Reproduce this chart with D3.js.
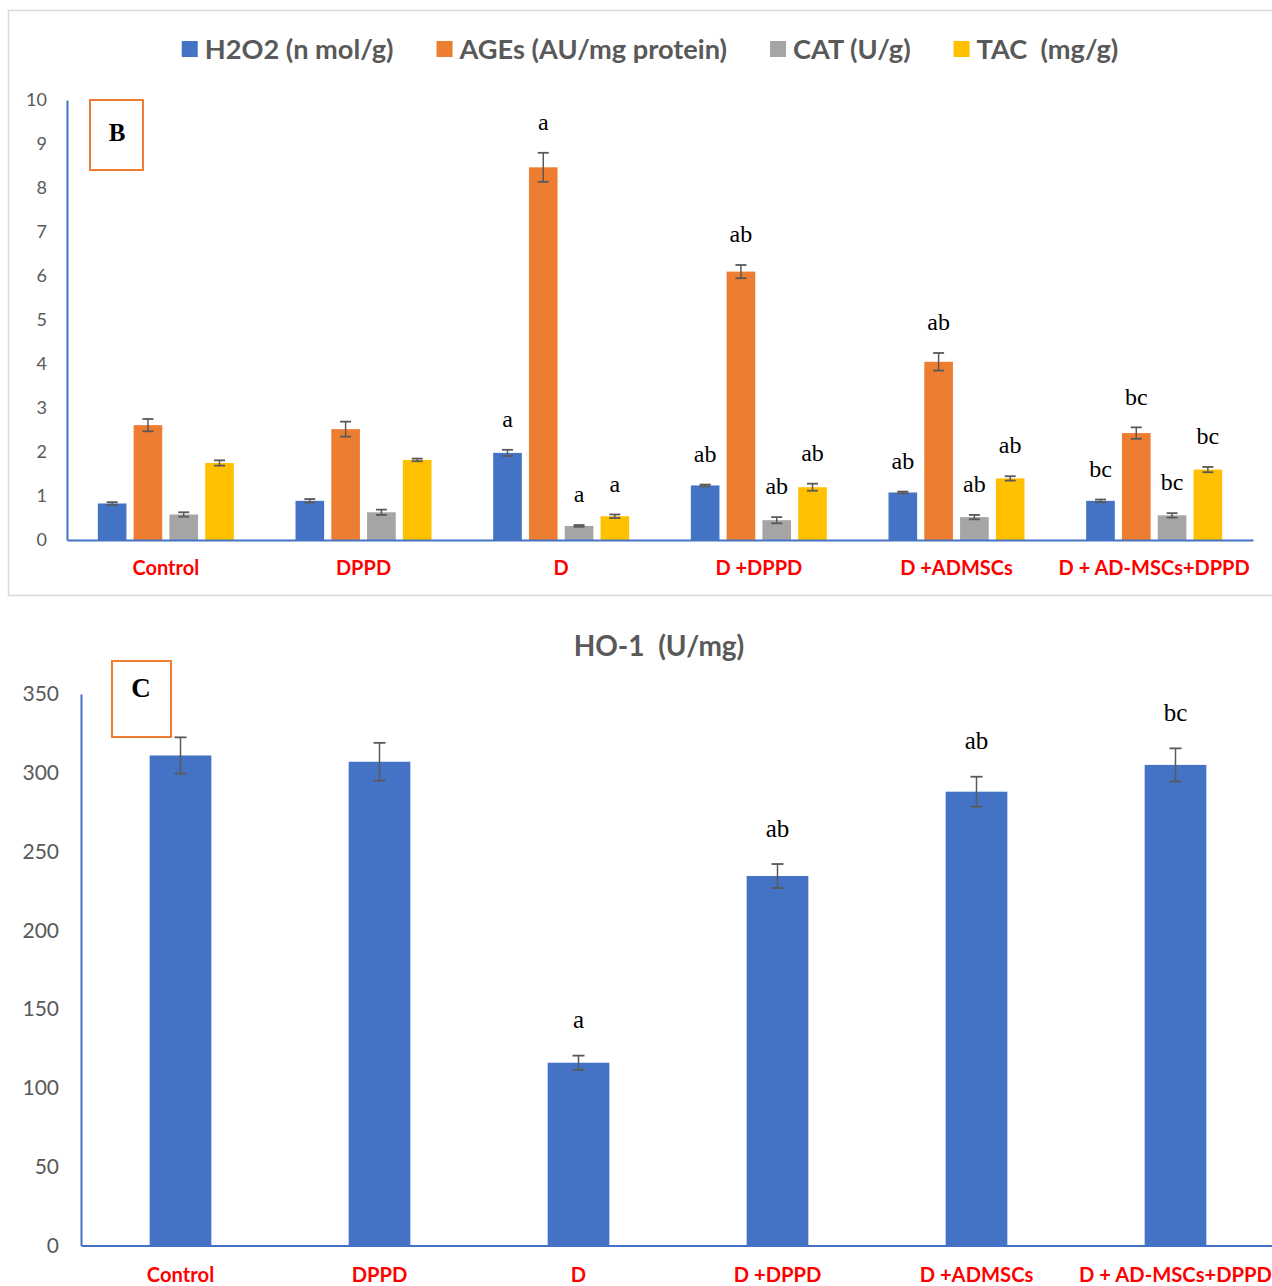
<!DOCTYPE html>
<html>
<head>
<meta charset="utf-8">
<script src="https://cdn.jsdelivr.net/npm/d3@7"></script>
<style>
  html, body { margin: 0; padding: 0; background: #ffffff; }
  svg { display: block; }
</style>
</head>
<body>
<script>
// ---------- DATA ----------
const categories = ["Control", "DPPD", "D", "D +DPPD", "D +ADMSCs", "D + AD-MSCs+DPPD"];
const seriesNames = ["H2O2 (n mol/g)", "AGEs (AU/mg protein)", "CAT (U/g)", "TAC  (mg/g)"];

const h2o2    = [0.83, 0.89, 1.98, 1.24, 1.08, 0.89];
const h2o2Err = [0.03, 0.04, 0.07, 0.02, 0.02, 0.03];
const ages    = [2.61, 2.52, 8.47, 6.10, 4.05, 2.43];
const agesErr = [0.14, 0.17, 0.33, 0.15, 0.20, 0.13];
const cat     = [0.58, 0.63, 0.32, 0.45, 0.52, 0.56];
const catErr  = [0.05, 0.06, 0.02, 0.07, 0.05, 0.05];
const tac     = [1.75, 1.82, 0.54, 1.20, 1.40, 1.60];
const tacErr  = [0.06, 0.03, 0.04, 0.08, 0.05, 0.06];

const h2o2Sig = ["", "", "a", "ab", "ab", "bc"];
const agesSig = ["", "", "a", "ab", "ab", "bc"];
const catSig  = ["", "", "a", "ab", "ab", "bc"];
const tacSig  = ["", "", "a", "ab", "ab", "bc"];

const ho1Title = "HO-1  (U/mg)";
const ho1    = [311, 307, 116, 234.5, 288, 305];
const ho1Err = [11.5, 12, 4.5, 7.6, 9.5, 10.5];
const ho1Sig = ["", "", "a", "ab", "ab", "bc"];

const topTicks = [0, 1, 2, 3, 4, 5, 6, 7, 8, 9, 10];
const bottomTicks = [0, 50, 100, 150, 200, 250, 300, 350];

const panelTagTop = "B";
const panelTagBottom = "C";

// ---------- STYLE ----------
const colors = ["#4472C4", "#ED7D31", "#A5A5A5", "#FFC000"];
const axisBlue = "#4472C4";
const textGray = "#595959";
const errColor = "#595959";
const sansFont = "Lato, 'Open Sans', sans-serif";
const serifFont = "'Palatino Linotype', 'Book Antiqua', 'Liberation Serif', 'DejaVu Serif', serif";

const W = 1272, H = 1286;
const svg = d3.select("body").append("svg")
  .attr("width", W).attr("height", H)
  .attr("xmlns", "http://www.w3.org/2000/svg");
svg.append("rect").attr("width", W).attr("height", H).attr("fill", "#fff");

// ================= TOP PANEL =================
svg.append("rect")
  .attr("x", 8.5).attr("y", 10.5).attr("width", 1290).attr("height", 585)
  .attr("fill", "none").attr("stroke", "#d9d9d9").attr("stroke-width", 1.5);

const series = [
  { name: seriesNames[0], vals: h2o2, errs: h2o2Err, sig: h2o2Sig },
  { name: seriesNames[1], vals: ages, errs: agesErr, sig: agesSig },
  { name: seriesNames[2], vals: cat,  errs: catErr,  sig: catSig },
  { name: seriesNames[3], vals: tac,  errs: tacErr,  sig: tacSig }
];

const tx0 = d3.scaleBand().domain(categories).range([67, 1253]).padding(0);
const tx1 = d3.scaleBand().domain(d3.range(series.length))
  .range([tx0.bandwidth() * 0.156, tx0.bandwidth() * 0.844]).paddingInner(0.2).paddingOuter(0);
const ty = d3.scaleLinear().domain([0, 10]).range([540, 100]);

const gTop = svg.append("g");

// y axis
const yAxTop = gTop.append("g").attr("transform", "translate(67,0)")
  .call(d3.axisLeft(ty).tickValues(topTicks).tickSize(0).tickSizeOuter(0).tickPadding(20));
yAxTop.select(".domain").attr("stroke", axisBlue).attr("stroke-width", 2);
yAxTop.selectAll("text").attr("font-family", sansFont).attr("font-size", 18).attr("fill", textGray);

// bars
series.forEach((s, si) => {
  const g = gTop.append("g");
  g.selectAll("rect").data(categories).join("rect")
    .attr("x", (c) => tx0(c) + tx1(si))
    .attr("y", (c, i) => ty(s.vals[i]))
    .attr("width", tx1.bandwidth())
    .attr("height", (c, i) => ty(0) - ty(s.vals[i]))
    .attr("fill", colors[si]);
});

// x axis
const xAxTop = gTop.append("g").attr("transform", "translate(0,540)")
  .call(d3.axisBottom(tx0).tickSize(0).tickSizeOuter(0));
xAxTop.select(".domain").attr("stroke", axisBlue).attr("stroke-width", 2);
xAxTop.selectAll("text")
  .attr("y", 35).attr("dy", 0)
  .attr("font-family", sansFont).attr("font-weight", "bold").attr("font-size", 20).attr("fill", "#FF0000");

// error bars + letters
series.forEach((s, si) => {
  const g = gTop.append("g");
  categories.forEach((c, i) => {
    const cx = tx0(c) + tx1(si) + tx1.bandwidth() / 2;
    const hi = ty(s.vals[i] + s.errs[i]);
    const lo = ty(s.vals[i] - s.errs[i]);
    g.append("line").attr("x1", cx).attr("x2", cx).attr("y1", hi).attr("y2", lo)
      .attr("stroke", errColor).attr("stroke-width", 1.5);
    [hi, lo].forEach(yy => g.append("line").attr("x1", cx - 5.5).attr("x2", cx + 5.5)
      .attr("y1", yy).attr("y2", yy).attr("stroke", errColor).attr("stroke-width", 1.8));
    if (s.sig[i]) {
      g.append("text").attr("x", cx).attr("y", hi - 30).attr("dy", "0.3em")
        .attr("text-anchor", "middle").attr("font-family", serifFont)
        .attr("font-size", 24).attr("fill", "#000").text(s.sig[i]);
    }
  });
});

// legend
const leg = svg.append("g");
const items = [];
let lx = 0;
series.forEach((s, si) => {
  const it = leg.append("g");
  it.append("rect").attr("x", 0).attr("y", -8).attr("width", 16).attr("height", 16).attr("fill", colors[si]);
  const t = it.append("text").attr("x", 23).attr("y", 0).attr("dy", "0.35em")
    .attr("font-family", sansFont).attr("font-weight", "bold").attr("font-size", 27.2)
    .attr("fill", textGray).style("white-space", "pre").text(s.name);
  const w = 23 + t.node().getComputedTextLength();
  items.push({ it, x: lx });
  lx += w + 43;
});
const totalW = lx - 43;
const legStart = 650 - totalW / 2;
items.forEach(d => d.it.attr("transform", `translate(${legStart + d.x},49)`));

// panel tag B
svg.append("rect").attr("x", 90).attr("y", 100).attr("width", 53).attr("height", 70)
  .attr("fill", "#fff").attr("stroke", "#ED7D31").attr("stroke-width", 2);
svg.append("text").attr("x", 117).attr("y", 132).attr("dy", "0.35em").attr("text-anchor", "middle")
  .attr("font-family", serifFont).attr("font-weight", "bold").attr("font-size", 25).text(panelTagTop);

// ================= BOTTOM PANEL =================
const bx = d3.scaleBand().domain(categories).range([81, 1275]).padding(0);
const by = d3.scaleLinear().domain([0, 350]).range([1245.5, 694]);
const gB = svg.append("g");

svg.append("text").attr("x", 659).attr("y", 646).attr("dy", "0.35em").attr("text-anchor", "middle")
  .attr("font-family", sansFont).attr("font-weight", "bold").attr("font-size", 28)
  .attr("fill", textGray).style("white-space", "pre").text(ho1Title);

const yAxB = gB.append("g").attr("transform", "translate(81,0)")
  .call(d3.axisLeft(by).tickValues(bottomTicks).tickSize(0).tickSizeOuter(0).tickPadding(22));
yAxB.select(".domain").attr("stroke", axisBlue).attr("stroke-width", 2);
yAxB.selectAll("text").attr("font-family", sansFont).attr("font-size", 21).attr("fill", textGray);

const barW = bx.bandwidth() * 0.31;
gB.append("g").selectAll("rect").data(categories).join("rect")
  .attr("x", c => bx(c) + bx.bandwidth() / 2 - barW / 2)
  .attr("y", (c, i) => by(ho1[i]))
  .attr("width", barW)
  .attr("height", (c, i) => by(0) - by(ho1[i]))
  .attr("fill", colors[0]);

const xAxB = gB.append("g").attr("transform", "translate(0,1245.5)")
  .call(d3.axisBottom(bx).tickSize(0).tickSizeOuter(0));
xAxB.select(".domain").attr("stroke", axisBlue).attr("stroke-width", 2);
xAxB.selectAll("text")
  .attr("y", 36).attr("dy", 0)
  .attr("font-family", sansFont).attr("font-weight", "bold").attr("font-size", 20.2).attr("fill", "#FF0000");

const gE = gB.append("g");
categories.forEach((c, i) => {
  const cx = bx(c) + bx.bandwidth() / 2;
  const hi = by(ho1[i] + ho1Err[i]);
  const lo = by(ho1[i] - ho1Err[i]);
  gE.append("line").attr("x1", cx).attr("x2", cx).attr("y1", hi).attr("y2", lo)
    .attr("stroke", errColor).attr("stroke-width", 1.5);
  [hi, lo].forEach(yy => gE.append("line").attr("x1", cx - 6).attr("x2", cx + 6)
    .attr("y1", yy).attr("y2", yy).attr("stroke", errColor).attr("stroke-width", 1.8));
  if (ho1Sig[i]) {
    gE.append("text").attr("x", cx).attr("y", hi - 35).attr("dy", "0.3em")
      .attr("text-anchor", "middle").attr("font-family", serifFont)
      .attr("font-size", 25).attr("fill", "#000").text(ho1Sig[i]);
  }
});

// panel tag C
svg.append("rect").attr("x", 112).attr("y", 661).attr("width", 59).attr("height", 76)
  .attr("fill", "#fff").attr("stroke", "#ED7D31").attr("stroke-width", 2);
svg.append("text").attr("x", 141).attr("y", 688).attr("dy", "0.35em").attr("text-anchor", "middle")
  .attr("font-family", serifFont).attr("font-weight", "bold").attr("font-size", 27).text(panelTagBottom);
</script>
</body>
</html>
